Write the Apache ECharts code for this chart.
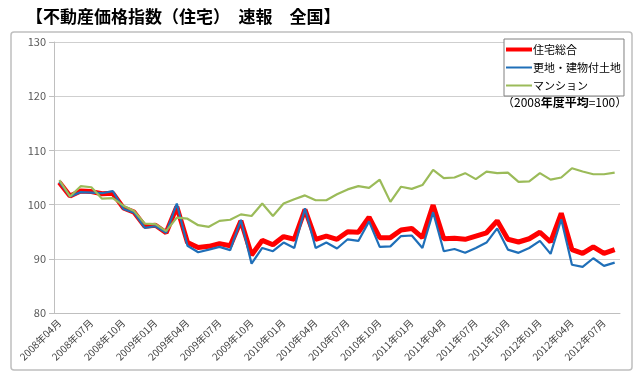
<!DOCTYPE html>
<html>
<head>
<meta charset="utf-8">
<script src="https://cdn.jsdelivr.net/npm/echarts@6/dist/echarts.min.js"></script>
<style>
html, body { margin: 0; padding: 0; background: #fff; }
#chart { width: 640px; height: 376px; }
</style>
</head>
<body>
<div id="chart"></div>
<script>
var months = [
  '2008年04月', '2008年05月', '2008年06月', '2008年07月', '2008年08月', '2008年09月', '2008年10月', '2008年11月', '2008年12月',
  '2009年01月', '2009年02月', '2009年03月', '2009年04月', '2009年05月', '2009年06月', '2009年07月', '2009年08月', '2009年09月',
  '2009年10月', '2009年11月', '2009年12月', '2010年01月', '2010年02月', '2010年03月', '2010年04月', '2010年05月', '2010年06月',
  '2010年07月', '2010年08月', '2010年09月', '2010年10月', '2010年11月', '2010年12月', '2011年01月', '2011年02月', '2011年03月',
  '2011年04月', '2011年05月', '2011年06月', '2011年07月', '2011年08月', '2011年09月', '2011年10月', '2011年11月', '2011年12月',
  '2012年01月', '2012年02月', '2012年03月', '2012年04月', '2012年05月', '2012年06月', '2012年07月', '2012年08月'
];
var housingTotal = [
  104.1, 101.6, 102.5, 102.4, 102.0, 102.1, 99.4, 98.6, 96.0,
  96.2, 94.8, 99.6, 93.0, 92.1, 92.3, 92.8, 92.4, 97.0,
  90.7, 93.4, 92.6, 94.1, 93.6, 99.1, 93.6, 94.2, 93.6,
  95.0, 94.9, 97.7, 93.9, 93.9, 95.3, 95.6, 93.9, 99.9,
  93.7, 93.8, 93.6, 94.2, 94.8, 97.0, 93.6, 93.1, 93.7,
  94.9, 93.1, 98.4, 91.7, 91.0, 92.2, 91.0, 91.7
];
var landAndBuilding = [
  104.2, 101.5, 102.3, 102.2, 102.1, 102.5, 99.2, 98.5, 95.7,
  96.0, 94.8, 100.2, 92.4, 91.2, 91.7, 92.2, 91.6, 97.2,
  89.1, 92.0, 91.4, 93.0, 92.0, 99.3, 92.0, 93.0, 91.9,
  93.6, 93.3, 96.9, 92.2, 92.3, 94.2, 94.3, 92.0, 98.6,
  91.4, 91.8, 91.1, 92.0, 93.0, 95.6, 91.7, 91.1, 92.0,
  93.3, 90.9, 97.3, 88.9, 88.5, 90.1, 88.7, 89.3
];
var condo = [
  104.5, 101.5, 103.4, 103.2, 101.1, 101.2, 99.8, 98.8, 96.5,
  96.4, 95.1, 97.6, 97.4, 96.2, 95.9, 97.0, 97.2, 98.2,
  97.9, 100.2, 97.9, 100.2, 101.0, 101.7, 100.8, 100.8, 101.9,
  102.8, 103.4, 103.1, 104.6, 100.5, 103.3, 102.9, 103.6, 106.4,
  104.9, 105.0, 105.8, 104.7, 106.1, 105.8, 105.9, 104.2, 104.3,
  105.8, 104.6, 105.0, 106.7, 106.1, 105.6, 105.6, 105.9
];
var seriesNames = ['住宅総合', '更地・建物付土地', 'マンション'];

var chart = echarts.init(document.getElementById('chart'));
var font = '"Noto Sans CJK JP", "Noto Sans", sans-serif';

// legend icons: just a bar of line thickness, padded to the item box
var thickIcon = 'path://M0,0M0,3H26V7H0ZM26,10';
var thinIcon = 'path://M0,0M0,4H26V6H0ZM26,10';

var option = {
  backgroundColor: '#fff',
  animation: false,
  textStyle: { fontFamily: font },
  title: {
    text: '【不動産価格指数（住宅）　速報　全国】',
    left: 21,
    top: 3,
    textStyle: { fontSize: 17, fontWeight: 'bold', color: '#000', fontFamily: font }
  },
  graphic: [{
    type: 'rect',
    shape: { x: 11, y: 32, width: 621, height: 338, r: 3 },
    style: { fill: 'none', stroke: '#bfbfbf', lineWidth: 1.5 },
    z: -1
  }, {
    type: 'text',
    left: 502,
    top: 96,
    style: {
      text: '（2008{b|年度平均}=100）',
      fontSize: 12,
      fill: '#000',
      fontFamily: font,
      rich: { b: { fontSize: 12, fontWeight: 'bold', fontFamily: font } }
    }
  }],
  legend: {
    orient: 'vertical',
    left: 504,
    top: 39,
    itemWidth: 26,
    itemHeight: 10,
    itemGap: 7,
    padding: [5, 3, 5, 2],
    borderColor: '#808080',
    borderWidth: 1,
    backgroundColor: '#fff',
    textStyle: { fontSize: 11, color: '#000', padding: [0, 0, 0, -4] },
    data: [
      { name: seriesNames[0], icon: thickIcon },
      { name: seriesNames[1], icon: thinIcon },
      { name: seriesNames[2], icon: thinIcon }
    ]
  },
  grid: { left: 54, right: 20, top: 42, bottom: 63 },
  xAxis: {
    type: 'category',
    data: months,
    boundaryGap: true,
    axisLine: { lineStyle: { color: '#bfbfbf' } },
    axisTick: { show: false },
    axisLabel: { interval: 2, rotate: 45, fontSize: 10, color: '#404040', margin: 8 }
  },
  yAxis: {
    type: 'value',
    min: 80,
    max: 130,
    interval: 10,
    axisLine: { show: true, lineStyle: { color: '#bfbfbf' } },
    axisTick: { show: true, length: 5, lineStyle: { color: '#bfbfbf' } },
    axisLabel: { fontSize: 11, color: '#595959', margin: 8 },
    splitLine: { lineStyle: { color: '#cfcfcf' } }
  },
  series: [{
    name: seriesNames[0],
    type: 'line',
    data: housingTotal,
    symbol: 'none',
    lineStyle: { color: '#ff0000', width: 5 },
    itemStyle: { color: '#ff0000' }
  }, {
    name: seriesNames[1],
    type: 'line',
    data: landAndBuilding,
    symbol: 'none',
    lineStyle: { color: '#1f6fb8', width: 2.2 },
    itemStyle: { color: '#1f6fb8' }
  }, {
    name: seriesNames[2],
    type: 'line',
    data: condo,
    symbol: 'none',
    lineStyle: { color: '#9bbb59', width: 2.2 },
    itemStyle: { color: '#9bbb59' }
  }]
};
chart.setOption(option);
</script>
</body>
</html>
